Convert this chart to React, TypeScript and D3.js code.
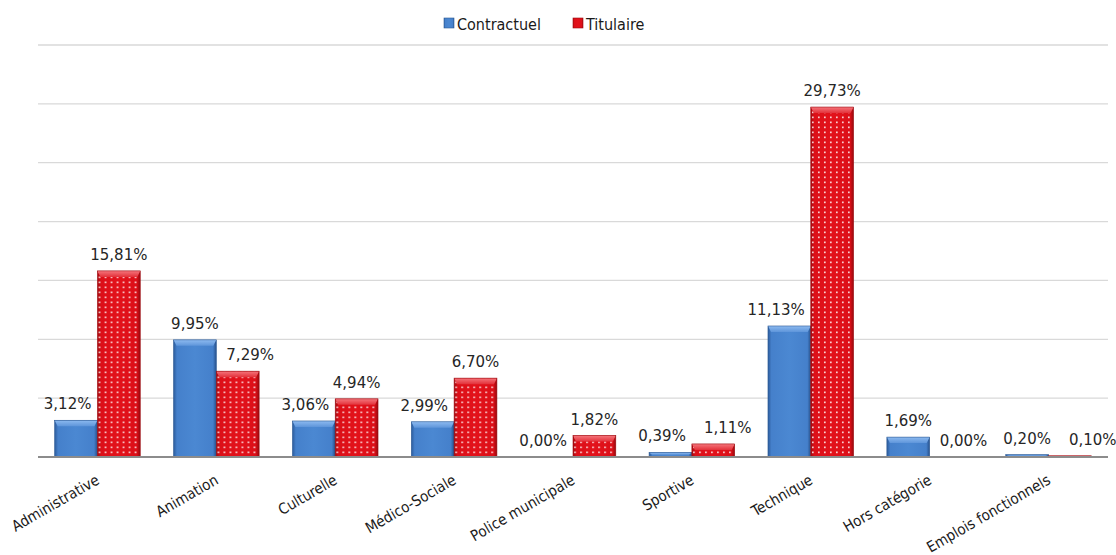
import React from "react";
import * as d3 from "d3";

const categories = [
  "Administrative",
  "Animation",
  "Culturelle",
  "Médico-Sociale",
  "Police municipale",
  "Sportive",
  "Technique",
  "Hors catégorie",
  "Emplois fonctionnels",
];
const contractuel = [3.12, 9.95, 3.06, 2.99, 0.0, 0.39, 11.13, 1.69, 0.2];
const titulaire = [15.81, 7.29, 4.94, 6.7, 1.82, 1.11, 29.73, 0.0, 0.1];
const seriesNames = ["Contractuel", "Titulaire"];
const yTicks = [0, 5, 10, 15, 20, 25, 30, 35];

const W = 1116;
const H = 555;
const FONT = "'DejaVu Sans', Verdana, sans-serif";
const FONT_C = "'DejaVu Sans Condensed', 'DejaVu Sans', Tahoma, sans-serif";
const LABEL_SIZE = 15;

const fmt = (v: number) => v.toFixed(2).replace(".", ",") + "%";

let ctx: CanvasRenderingContext2D | null = null;
function textWidth(s: string, size: number): number {
  if (!ctx && typeof document !== "undefined") ctx = document.createElement("canvas").getContext("2d");
  if (ctx) {
    ctx.font = `${size}px 'DejaVu Sans'`;
    return ctx.measureText(s).width;
  }
  return s.length * size * 0.62;
}

export default function App() {
  const x0 = d3.scaleBand<string>().domain(categories).range([38, 1108]).paddingInner(0.28).paddingOuter(0.14);
  const x1 = d3.scaleBand<string>().domain(seriesNames).range([0, x0.bandwidth()]).padding(0);
  const y = d3.scaleLinear().domain([0, 35]).range([457, 45]);
  const bw = x1.bandwidth();

  const series = [
    { name: seriesNames[0], values: contractuel, kind: "blue" },
    { name: seriesNames[1], values: titulaire, kind: "red" },
  ];

  // label placement with simple collision avoidance (like Excel's outside-end labels)
  const labels = categories.map((c, i) => {
    const bLeft = x0(c)! + x1(seriesNames[0])!;
    const rLeft = x0(c)! + x1(seriesNames[1])!;
    const bTop = y(contractuel[i]);
    const rTop = y(titulaire[i]);
    const bText = fmt(contractuel[i]);
    const rText = fmt(titulaire[i]);
    const bw2 = textWidth(bText, LABEL_SIZE) / 2;
    const rw2 = textWidth(rText, LABEL_SIZE) / 2;
    const by = bTop - 11;
    const ry = rTop - 11;
    let bcx = bLeft + bw / 2;
    let rcx = rLeft + bw / 2;
    if (by + 3 > rTop && bcx + bw2 > rLeft - 6) bcx = rLeft - 6 - bw2;
    if (ry + 3 > bTop && rcx - rw2 < bLeft + bw + 10) rcx = bLeft + bw + 10 + rw2;
    if (Math.abs(ry - by) < 17 && rcx - rw2 < bcx + bw2 + 18) rcx = bcx + bw2 + 18 + rw2;
    return [
      { x: bcx, y: by, text: bText },
      { x: rcx, y: ry, text: rText },
    ];
  });

  const bar = (kind: string, bx: number, top: number, key: string) => {
    const h = y(0) - top;
    if (h <= 0) return null;
    const bev = Math.min(6, h / 2);
    const side = Math.min(3, bw / 6);
    const blue = kind === "blue";
    return (
      <g key={key}>
        <rect x={bx} y={top} width={bw} height={h} fill={blue ? "url(#gBlue)" : "url(#gRed)"} />
        {!blue && <rect x={bx} y={top} width={bw} height={h} fill="url(#dots)" />}
        <polygon
          points={`${bx},${top} ${bx + bw},${top} ${bx + bw - side},${top + bev} ${bx + side},${top + bev}`}
          fill={blue ? "url(#gBlueTop)" : "url(#gRedTop)"}
        />
        <rect x={bx} y={top} width={bw} height={h} fill="none" stroke={blue ? "#2d5a94" : "#9c0a10"} strokeWidth={0.6} />
      </g>
    );
  };

  return (
    <svg width={W} height={H} style={{ display: "block", position: "absolute", left: 0, top: 0 }}>
      <defs>
        <linearGradient id="gBlue" x1="0" x2="1" y1="0" y2="0">
          <stop offset="0" stopColor="#2c5b9b" />
          <stop offset="0.08" stopColor="#4580cb" />
          <stop offset="0.5" stopColor="#4b88d2" />
          <stop offset="0.92" stopColor="#4580cb" />
          <stop offset="1" stopColor="#27508a" />
        </linearGradient>
        <linearGradient id="gBlueTop" x1="0" x2="0" y1="0" y2="1">
          <stop offset="0" stopColor="#8dbaf0" />
          <stop offset="1" stopColor="#5e95da" />
        </linearGradient>
        <linearGradient id="gRed" x1="0" x2="1" y1="0" y2="0">
          <stop offset="0" stopColor="#a20a10" />
          <stop offset="0.08" stopColor="#dc0f18" />
          <stop offset="0.5" stopColor="#e3121b" />
          <stop offset="0.92" stopColor="#dc0f18" />
          <stop offset="1" stopColor="#960a0f" />
        </linearGradient>
        <linearGradient id="gRedTop" x1="0" x2="0" y1="0" y2="1">
          <stop offset="0" stopColor="#f5767c" />
          <stop offset="1" stopColor="#e3313a" />
        </linearGradient>
        <pattern id="dots" patternUnits="userSpaceOnUse" width="6" height="5">
          <rect x="2" y="1.5" width="1.7" height="1.7" fill="#ffffff" opacity="0.8" />
        </pattern>
      </defs>

      {yTicks.slice(1).map((t) => (
        <line key={t} x1={38} x2={1108} y1={y(t)} y2={y(t)} stroke="#d9d9d9" strokeWidth={1.3} />
      ))}

      {categories.map((c, i) => (
        <g key={c} transform={`translate(${x0(c)},0)`}>
          {series.map((s) => bar(s.kind, x1(s.name)!, y(s.values[i]), s.name))}
        </g>
      ))}

      <line x1={38} x2={1108} y1={y(0)} y2={y(0)} stroke="#8c8c8c" strokeWidth={2} />

      {labels.flat().map((l, k) => (
        <text key={k} x={l.x} y={l.y} textAnchor="middle" fontFamily={FONT} fontSize={LABEL_SIZE} fill="#262626">
          {l.text}
        </text>
      ))}

      {categories.map((c) => {
        const cx = x0(c)! + x0.bandwidth() / 2 + 3;
        const cy = 483;
        return (
          <text
            key={c}
            transform={`translate(${cx},${cy}) rotate(-30)`}
            textAnchor="end"
            fontFamily={FONT_C}
            fontSize={15}
            fill="#1a1a1a"
          >
            {c}
          </text>
        );
      })}

      <g fontFamily={FONT_C} fontSize={16} fill="#1a1a1a">
        <rect x={444} y={18} width={10} height={10} fill="url(#gBlue)" stroke="#2d5a94" strokeWidth={0.6} />
        <text x={457} y={30}>{seriesNames[0]}</text>
        <rect x={573} y={18} width={10} height={10} fill="url(#gRed)" stroke="#9c0a10" strokeWidth={0.6} />
        <text x={586} y={30}>{seriesNames[1]}</text>
      </g>
    </svg>
  );
}
